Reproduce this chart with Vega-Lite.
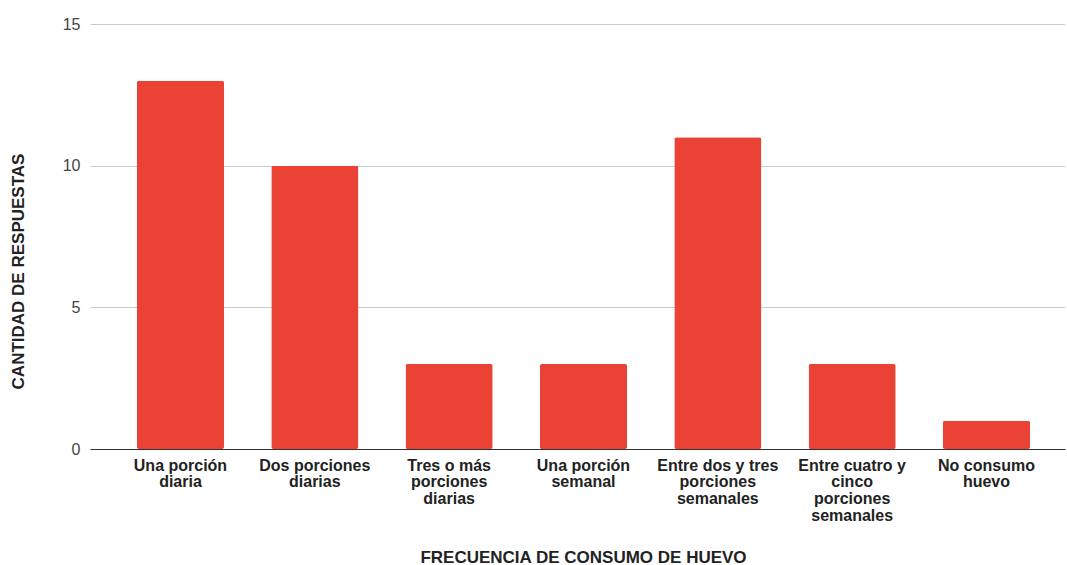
{
  "$schema": "https://vega.github.io/schema/vega-lite/v6.json",
  "autosize": {"type": "none"},
  "padding": {"left": 90, "top": 24, "right": 2, "bottom": 116},
  "width": 975,
  "height": 425,
  "background": "white",
  "data": {
    "values": [
      {"frecuencia": "Una porción diaria", "respuestas": 13},
      {"frecuencia": "Dos porciones diarias", "respuestas": 10},
      {"frecuencia": "Tres o más porciones diarias", "respuestas": 3},
      {"frecuencia": "Una porción semanal", "respuestas": 3},
      {"frecuencia": "Entre dos y tres porciones semanales", "respuestas": 11},
      {"frecuencia": "Entre cuatro y cinco porciones semanales", "respuestas": 3},
      {"frecuencia": "No consumo huevo", "respuestas": 1}
    ]
  },
  "mark": {"type": "bar", "color": "#EA4335", "cornerRadius": 2},
  "encoding": {
    "x": {
      "field": "frecuencia",
      "type": "nominal",
      "sort": null,
      "scale": {"paddingInner": 0.352, "paddingOuter": 0.305, "align": 0.573},
      "axis": {
        "title": "FRECUENCIA DE CONSUMO DE HUEVO",
        "titleFont": "Liberation Sans",
        "titleFontSize": 17,
        "titleFontWeight": "bold",
        "titleColor": "#222222",
        "titleX": 493,
        "titleY": 108,
        "titleBaseline": "middle",
        "labelAngle": 0,
        "labelFont": "Liberation Sans",
        "labelFontSize": 16,
        "labelFontWeight": "bold",
        "labelColor": "#222222",
        "labelLineHeight": 16.7,
        "labelPadding": 8,
        "labelBaseline": "top",
        "labelLimit": 0,
        "ticks": false,
        "domainColor": "#333333",
        "domainWidth": 1,
        "labelExpr": "datum.value == 'Una porción diaria' ? ['Una porción', 'diaria'] : datum.value == 'Dos porciones diarias' ? ['Dos porciones', 'diarias'] : datum.value == 'Tres o más porciones diarias' ? ['Tres o más', 'porciones', 'diarias'] : datum.value == 'Una porción semanal' ? ['Una porción', 'semanal'] : datum.value == 'Entre dos y tres porciones semanales' ? ['Entre dos y tres', 'porciones', 'semanales'] : datum.value == 'Entre cuatro y cinco porciones semanales' ? ['Entre cuatro y', 'cinco', 'porciones', 'semanales'] : ['No consumo', 'huevo']"
      }
    },
    "y": {
      "field": "respuestas",
      "type": "quantitative",
      "scale": {"domain": [0, 15]},
      "axis": {
        "title": "CANTIDAD DE RESPUESTAS",
        "titleFont": "Liberation Sans",
        "titleFontSize": 17,
        "titleFontWeight": "bold",
        "titleColor": "#222222",
        "titleAngle": -90,
        "titleX": -72,
        "titleY": 247,
        "titleBaseline": "middle",
        "titleAlign": "center",
        "values": [0, 5, 10, 15],
        "labelFont": "Liberation Sans",
        "labelFontSize": 16,
        "labelColor": "#444444",
        "labelPadding": 10,
        "ticks": false,
        "domain": false,
        "gridColor": "#CCCCCC",
        "gridWidth": 1
      }
    }
  },
  "config": {"view": {"stroke": null}}
}
